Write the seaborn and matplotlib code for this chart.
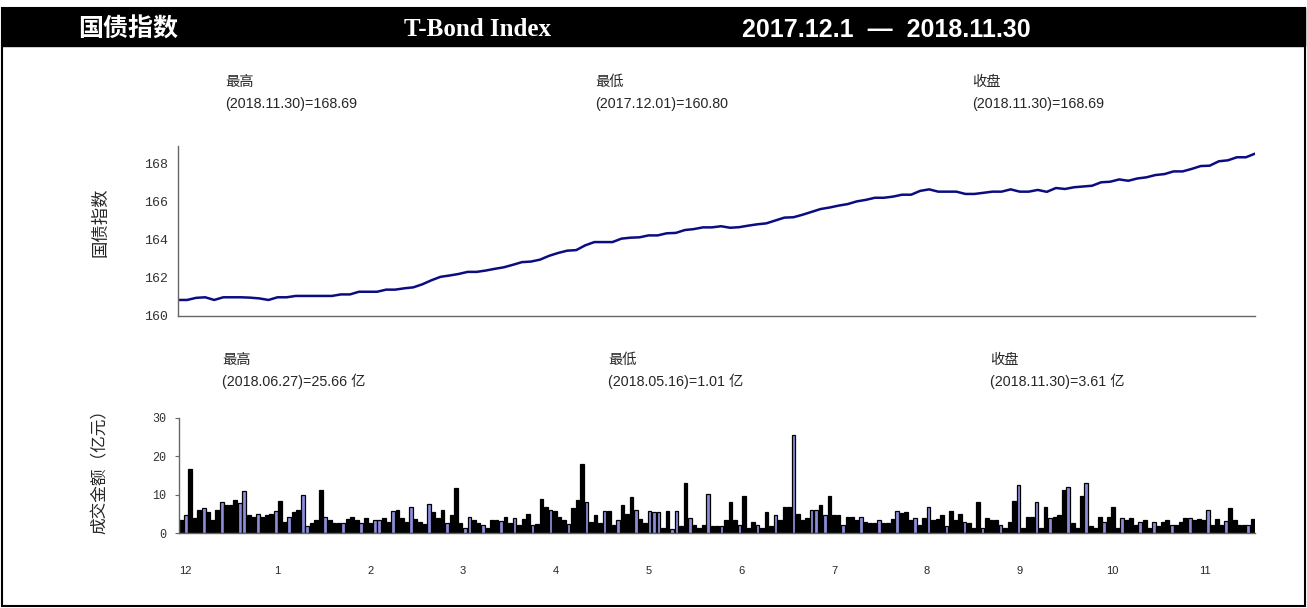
"""
国债指数 走势与成交金额
"""
import numpy as np
import pandas as pd
import matplotlib
matplotlib.use("Agg")
import matplotlib.pyplot as plt
import seaborn as sns
from matplotlib.patches import Rectangle

# 国债指数 (2017.12.1 - 2018.11.30), 约两日一点
index_close = [
    160.84, 160.84, 160.95, 160.98, 160.84, 160.98, 160.98, 160.98, 160.96, 160.92,
    160.84, 160.98, 160.98, 161.05, 161.05, 161.05, 161.05, 161.05, 161.13, 161.13,
    161.27, 161.27, 161.27, 161.38, 161.38, 161.45, 161.50, 161.66, 161.87, 162.05,
    162.12, 162.20, 162.31, 162.31, 162.38, 162.47, 162.55, 162.68, 162.82, 162.85,
    162.95, 163.15, 163.30, 163.42, 163.45, 163.70, 163.87, 163.87, 163.87, 164.05,
    164.10, 164.12, 164.22, 164.22, 164.33, 164.35, 164.50, 164.55, 164.64, 164.64,
    164.70, 164.62, 164.65, 164.73, 164.80, 164.85, 165.00, 165.15, 165.17, 165.30,
    165.45, 165.60, 165.68, 165.78, 165.86, 166.00, 166.08, 166.19, 166.19, 166.25,
    166.35, 166.35, 166.55, 166.63, 166.51, 166.51, 166.51, 166.39, 166.39, 166.45,
    166.51, 166.51, 166.63, 166.51, 166.51, 166.60, 166.50, 166.70, 166.65, 166.74,
    166.78, 166.82, 167.00, 167.03, 167.15, 167.08, 167.20, 167.26, 167.38, 167.43,
    167.57, 167.57, 167.70, 167.85, 167.87, 168.10, 168.15, 168.31, 168.31, 168.50,
]

# 成交金额 (亿元), 每个交易日
volume = [
    3.5, 4.6, 16.8, 3.9, 6.1, 6.4, 5.4, 3.5, 6.1, 8.0, 7.2, 7.2, 8.6, 7.9, 10.9, 4.6,
    4.3, 4.9, 4.2, 4.6, 5.0, 5.8, 8.3, 2.8, 4.3, 5.4, 6.1, 10.0, 1.7, 2.5, 3.5, 11.1,
    4.3, 3.3, 2.5, 2.5, 2.7, 3.6, 4.3, 3.3, 2.5, 3.9, 2.5, 3.3, 3.3, 3.9, 2.8, 5.8,
    6.1, 3.9, 2.8, 6.8, 3.6, 2.8, 2.3, 7.5, 5.4, 3.9, 6.1, 2.7, 4.6, 11.7, 2.5, 1.3,
    4.3, 3.3, 2.5, 2.0, 1.3, 3.5, 3.5, 3.2, 4.3, 2.7, 3.9, 2.0, 3.6, 5.0, 2.0, 2.4,
    9.0, 6.8, 6.1, 5.8, 4.3, 3.3, 2.4, 6.4, 8.6, 18.1, 8.2, 2.8, 4.6, 2.7, 5.8,
    5.8, 2.2, 3.5, 7.2, 5.0, 9.4, 6.1, 3.6, 2.5, 5.8, 5.4, 5.4, 1.2, 5.8, 1.01, 5.8,
    1.8, 13.1, 3.9, 2.2, 1.2, 2.2, 10.1, 1.8, 1.8, 1.8, 3.5, 8.0, 3.3, 2.0, 9.6, 1.3,
    2.8, 2.0, 1.2, 5.4, 1.8, 4.6, 3.3, 6.8, 6.8, 25.66, 5.0, 3.3, 3.9, 6.1, 6.1, 7.2,
    4.6, 9.7, 4.6, 4.6, 2.0, 4.3, 4.3, 3.3, 4.3, 2.8, 2.5, 2.5, 3.3, 2.5, 2.5, 3.6,
    5.8, 5.1, 5.4, 3.3, 3.9, 2.2, 3.9, 6.8, 3.3, 3.6, 4.6, 1.7, 5.8, 3.5, 5.0, 2.8,
    2.5, 1.3, 8.0, 1.3, 3.9, 3.5, 3.3, 2.0, 1.3, 2.8, 8.3, 12.5, 1.2, 4.3, 4.3,
    8.2, 1.2, 6.8, 3.9, 4.3, 4.6, 11.1, 11.9, 2.5, 1.2, 9.7, 13.1, 1.8, 1.3, 4.3, 2.8,
    4.3, 6.8, 1.3, 3.9, 3.3, 3.9, 2.0, 2.8, 3.3, 1.3, 2.8, 1.8, 2.8, 3.5, 2.0, 2.2,
    2.8, 3.9, 3.9, 3.3, 3.6, 3.3, 6.1, 2.2, 3.6, 2.0, 3.2, 6.4, 3.3, 2.0, 2.0, 2.2, 3.61,
]

# 1 = 浅紫色柱, 0 = 黑色柱
purple = [
    0, 1, 0, 0, 0, 1, 0, 0, 0, 1, 0, 0, 0, 1, 1, 0, 0, 1, 0, 0, 0, 1, 0, 0, 1, 0, 0, 1,
    1, 0, 0, 0, 1, 0, 0, 0, 1, 0, 0, 0, 1, 0, 0, 1, 1, 0, 0, 1,
    0, 0, 0, 1, 0, 0, 0, 1, 0, 0, 0, 1, 0, 0, 0, 1, 1, 0, 0, 1, 0, 0, 0, 1, 0, 0, 1, 0,
    0, 0, 1, 0, 0, 0, 1, 0, 0, 0, 1, 0, 0, 0, 1, 0, 0, 0, 1,
    0, 0, 1, 0, 0, 0, 1, 0, 0, 1, 1, 1, 0, 0, 1, 1, 0, 0, 1, 0, 0, 0, 1, 0, 0, 1, 0, 0,
    0, 1, 0, 0, 0, 1, 0, 0, 0, 1, 0, 0, 0, 1, 0, 0, 0, 1, 1, 0,
    1, 0, 0, 0, 1, 0, 0, 0, 1, 0, 0, 0, 1, 0, 0, 0, 1, 0, 0, 0, 1, 0, 0, 1, 0, 0, 0, 1,
    0, 0, 0, 1, 0, 0, 0, 1, 0, 0, 0, 1, 0, 0, 0, 1, 0, 0, 0,
    1, 0, 0, 1, 0, 0, 0, 1, 0, 0, 0, 1, 0, 0, 0, 1, 0, 0, 0, 1, 0, 0, 0, 1, 0, 0, 1, 0,
    0, 0, 1, 0, 0, 0, 1, 0, 0, 0, 1, 0, 0, 0, 1, 0, 0, 0, 0, 1, 0,
]

month_labels = ['12', '1', '2', '3', '4', '5', '6', '7', '8', '9', '10', '11']

index_stats = [('最高', '(2018.11.30)=168.69'),
               ('最低', '(2017.12.01)=160.80'),
               ('收盘', '(2018.11.30)=168.69')]
volume_stats = [('最高', '(2018.06.27)=25.66 亿'),
                ('最低', '(2018.05.16)=1.01 亿'),
                ('收盘', '(2018.11.30)=3.61 亿')]

W, H = 1307, 608
LINE_COLOR = '#0c0c82'
PURPLE = '#7f7fe6'
SPINE = '#666666'

sns.set_style("white")
plt.rcParams['font.family'] = ['Liberation Sans', 'Noto Sans CJK SC']

fig = plt.figure(figsize=(W / 100, H / 100), dpi=100)

# 标题栏与外框
fig.patches.append(Rectangle((2 / W, 1 - 46 / H), 1303 / W, 38 / H,
                             transform=fig.transFigure, color='black', zorder=0))
fig.patches.append(Rectangle((2 / W, 2 / H), 1303 / W, 598 / H, transform=fig.transFigure,
                             fill=False, edgecolor='black', lw=1.5, zorder=0))
ty = 1 - 30 / H
fig.text(128 / W, ty, '国债指数', color='white', fontsize=18, weight='bold',
         ha='center', va='center')
fig.text(478 / W, ty, 'T-Bond Index', color='white', fontsize=18, weight='bold',
         ha='center', va='center', family='Liberation Serif')
fig.text(886 / W, ty, '2017.12.1  —  2018.11.30', color='white', fontsize=18,
         weight='bold', ha='center', va='center')

# 国债指数折线
ax1 = fig.add_axes([178 / W, 1 - 316 / H, 1077 / W, 170 / H])
sns.lineplot(x=np.arange(len(index_close)), y=index_close, color=LINE_COLOR,
             lw=1.8, ax=ax1)
ax1.set_xlim(0, len(index_close) - 1)
ax1.set_ylim(160, 168.9)
ax1.set_yticks([160, 162, 164, 166, 168])
ax1.set_xticks([])
ax1.set_xlabel('')
ax1.set_ylabel('')
ax1.tick_params(axis='y', length=0, pad=7, labelsize=9.5, labelcolor='#333333')
for lab in ax1.get_yticklabels():
    lab.set_fontfamily('Liberation Mono')
for side in ['top', 'right']:
    ax1.spines[side].set_visible(False)
for side in ['left', 'bottom']:
    ax1.spines[side].set_color(SPINE)
    ax1.spines[side].set_linewidth(1)

# 成交金额柱状图
n = len(volume)
df = pd.DataFrame({'day': np.arange(n), 'vol': volume,
                   'key': [str(i) for i in range(n)]})
palette = {str(i): (PURPLE if p else 'black') for i, p in enumerate(purple)}

ax2 = fig.add_axes([179 / W, 1 - 533 / H, 1076 / W, 115 / H])
sns.barplot(data=df, x='day', y='vol', hue='key', palette=palette, legend=False,
            dodge=False, errorbar=None, width=0.82, edgecolor='black',
            linewidth=0.9, ax=ax2)
ax2.set_xlim(-0.5, n - 0.5)
ax2.set_ylim(0, 30)
ax2.set_yticks([0, 10, 20, 30])
ax2.set_xlabel('')
ax2.set_ylabel('')
major = np.arange(-0.5, n, 20)
ax2.set_xticks(major, labels=[''] * len(major))
ax2.set_xticks(0.8 + 20.6 * np.arange(len(month_labels)), labels=month_labels, minor=True)
ax2.tick_params(axis='x', which='major', length=4, color=SPINE, direction='out')
ax2.tick_params(axis='x', which='minor', length=0, pad=24, labelsize=8)
ax2.tick_params(axis='y', length=3, color=SPINE, pad=6, labelsize=8.5,
                labelcolor='#333333', left=True)
for lab in ax2.get_yticklabels():
    lab.set_fontfamily('Liberation Mono')
for side in ['top', 'right']:
    ax2.spines[side].set_visible(False)
for side in ['left', 'bottom']:
    ax2.spines[side].set_color(SPINE)
    ax2.spines[side].set_linewidth(1)

# 统计注释
for (head, body), x in zip(index_stats, [225, 595, 972]):
    fig.text(x / W, 1 - 82 / H, head, fontsize=10.3, va='center')
    fig.text(x / W, 1 - 104 / H, body, fontsize=10.3, va='center')
for (head, body), x in zip(volume_stats, [222, 608, 990]):
    fig.text(x / W, 1 - 360 / H, head, fontsize=10.3, va='center')
    fig.text(x / W, 1 - 381 / H, body, fontsize=10.3, va='center')

fig.text(100 / W, 1 - 222 / H, '国债指数', rotation=90, fontsize=12.5,
         ha='center', va='center')
fig.text(100 / W, 1 - 468 / H, '成交金额（亿元）', rotation=90, fontsize=12,
         ha='center', va='center')

fig.savefig('out.png', dpi=100)
